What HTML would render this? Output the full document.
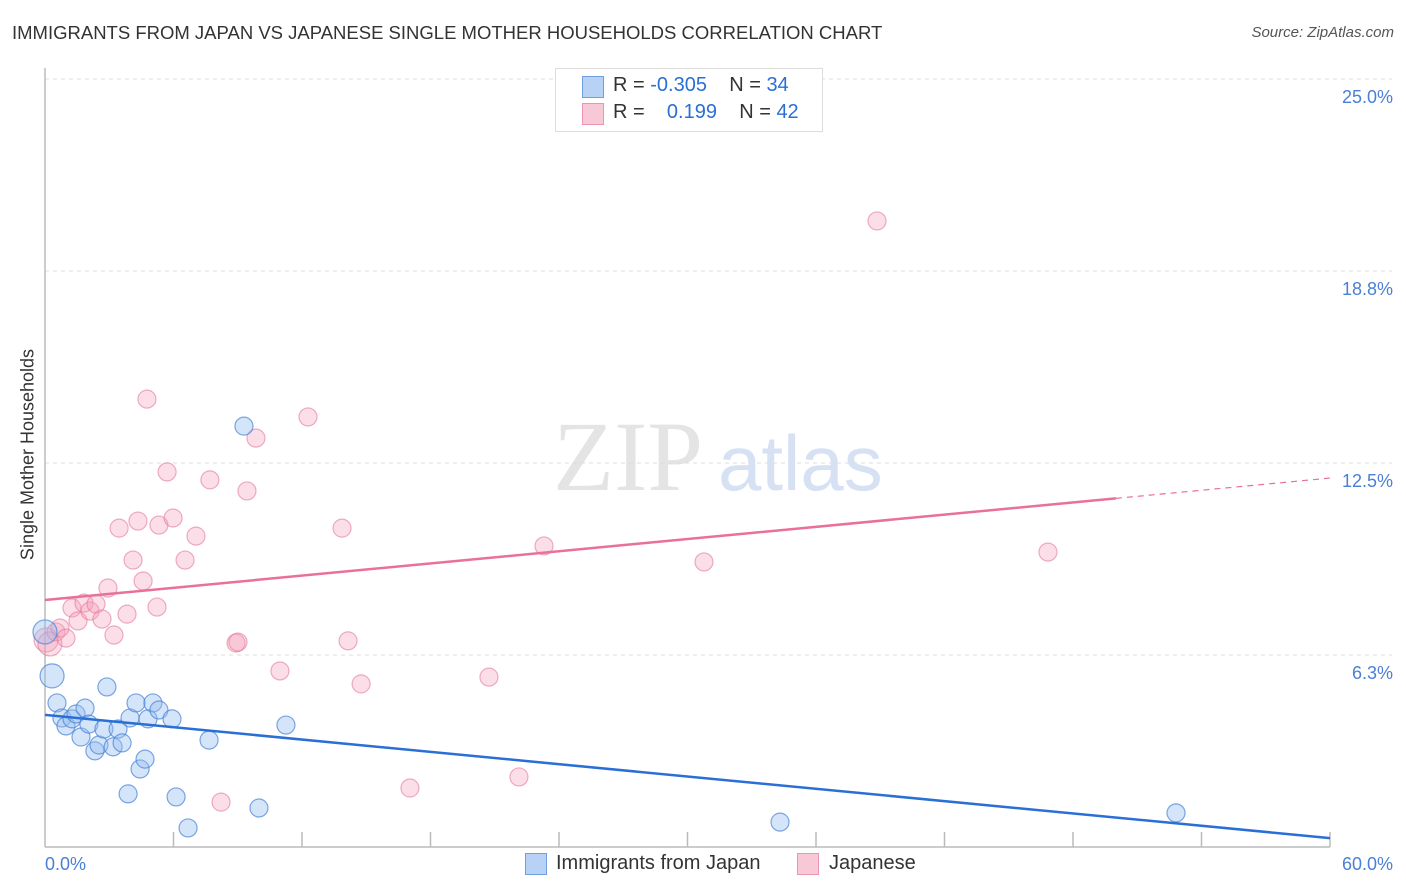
<!DOCTYPE html>
<html><head><meta charset="utf-8"><style>
body{margin:0;background:#fff;font-family:"Liberation Sans",sans-serif;}
#wrap{position:relative;width:1406px;height:892px;overflow:hidden;}
.t{position:absolute;white-space:nowrap;}
</style></head><body>
<div id="wrap">
<div class="t" style="left:12px;top:22px;font-size:18.5px;color:#333;">IMMIGRANTS FROM JAPAN VS JAPANESE SINGLE MOTHER HOUSEHOLDS CORRELATION CHART</div>
<div class="t" style="right:12px;top:24px;font-size:15px;color:#555;font-style:italic;">Source: ZipAtlas.com</div>
<div class="t" style="left:-82px;top:444px;font-size:18px;color:#333;transform:rotate(-90deg);width:220px;text-align:center;">Single Mother Households</div>
<svg id="svg" width="1406" height="892" style="position:absolute;left:0;top:0"></svg>
</div>
<script>
const xTickLabels=["0.0%","60.0%"];
const yTicks=[6.25,12.5,18.75,25];
const yTickLabels=["6.3%","12.5%","18.8%","25.0%"];
const blueX=[0,0.33,0.56,0.79,0.98,1.26,1.45,1.68,1.87,2.05,2.33,2.52,2.75,2.89,3.18,3.41,3.60,3.88,3.97,4.25,4.44,4.67,4.81,5.04,5.32,5.93,6.12,6.68,7.66,9.29,9.99,11.25,34.32,52.81];
const blueY=[7.00,5.57,4.69,4.20,3.94,4.17,4.33,3.58,4.52,4.00,3.13,3.32,3.84,5.21,3.26,3.84,3.39,1.73,4.20,4.69,2.54,2.86,4.17,4.69,4.46,4.17,1.63,0.62,3.48,13.70,1.27,3.97,0.81,1.11];
const pinkX=[0.05,0.23,0.51,0.70,0.98,1.26,1.54,1.82,2.10,2.38,2.66,2.94,3.22,3.83,3.46,4.11,4.34,4.58,4.76,5.23,5.32,5.70,5.98,6.54,7.05,7.70,8.22,8.92,9.01,9.43,9.85,10.97,12.28,13.87,14.15,14.76,17.04,20.73,22.13,23.30,30.77,38.85,46.83];
const pinkY=[6.74,6.61,7.00,7.13,6.80,7.78,7.36,7.94,7.68,7.91,7.42,8.43,6.90,7.58,10.38,9.34,10.61,8.66,14.58,7.81,10.48,12.21,10.71,9.34,10.12,11.95,1.46,6.64,6.67,11.59,13.31,5.73,14.00,10.38,6.71,5.31,1.92,5.53,2.28,9.80,9.28,20.38,9.60];
const blueTrend=[4.30,0.29];
const pinkTrend=[8.04,12.01];
const pinkSolidEnd=50;
const X=v=>45+v/60*1285, Y=v=>847-v*30.72;
const svg=document.getElementById('svg');const NS='http://www.w3.org/2000/svg';
function mk(t,a){const e=document.createElementNS(NS,t);for(const k in a)e.setAttribute(k,a[k]);svg.appendChild(e);return e;}
let w=mk('text',{x:553,y:490,'font-size':100,fill:'#e4e4e4','font-family':'Liberation Serif, serif'});w.textContent='ZIP';


w=mk('text',{x:718,y:490,'font-size':78,fill:'#d6e2f3','font-family':'Liberation Sans, sans-serif'});w.textContent='atlas';


yTicks.forEach((v,i)=>{
 let g=mk('line',{x1:45,x2:1392,y1:Y(v),y2:Y(v),stroke:'#ddd','stroke-dasharray':'4,4'});
 
 
 let t=mk('text',{x:1393,y:Y(v)+24,'text-anchor':'end','font-size':18,fill:'#4a7fd6'});t.textContent=yTickLabels[i];
 
 
});
let ax=mk('line',{x1:45,x2:45,y1:68,y2:847,stroke:'#bbb','stroke-width':1.5});


ax=mk('line',{x1:45,x2:1330,y1:847,y2:847,stroke:'#bbb','stroke-width':1.5});


for(let i=1;i<=10;i++){let tk=mk('line',{x1:X(i*6),x2:X(i*6),y1:832,y2:847,stroke:'#bbb','stroke-width':1.5});
 
 }
let xl=mk('text',{x:45,y:870,'font-size':18,fill:'#4a7fd6'});xl.textContent=xTickLabels[0];


xl=mk('text',{x:1393,y:870,'text-anchor':'end','font-size':18,fill:'#4a7fd6'});xl.textContent=xTickLabels[1];


function dots(xs,ys,fill,stroke,name){xs.forEach((x,i)=>{
 let c=mk('circle',{cx:X(x),cy:Y(ys[i]),r:(i<2&&x<0.5)?12:9,fill:fill,stroke:stroke,'stroke-width':1.2});
 
 });}
dots(pinkX,pinkY,'rgba(244,160,186,0.35)','rgba(228,120,155,0.6)','pink-point');
dots(blueX,blueY,'rgba(150,190,240,0.4)','rgba(70,130,215,0.7)','blue-point');
const pAt=x=>pinkTrend[0]+(pinkTrend[1]-pinkTrend[0])*x/60;
let l=mk('line',{x1:X(0),y1:Y(blueTrend[0]),x2:X(60),y2:Y(blueTrend[1]),stroke:'#2a6fd6','stroke-width':2.5});


l=mk('line',{x1:X(0),y1:Y(pAt(0)),x2:X(pinkSolidEnd),y2:Y(pAt(pinkSolidEnd)),stroke:'#e8709a','stroke-width':2.5});


l=mk('line',{x1:X(pinkSolidEnd),y1:Y(pAt(pinkSolidEnd)),x2:X(60),y2:Y(pAt(60)),stroke:'#e8709a','stroke-width':1.2,'stroke-dasharray':'6,5'});


</script>
<div class="t" style="left:555px;top:68px;width:266px;height:62px;border:1px solid #ddd;background:#fff;">
 <div class="t" style="left:26px;top:7px;width:20px;height:20px;background:#b8d2f5;border:1px solid #6f9fe0;"></div>
 <div class="t" style="left:57px;top:5px;font-size:20px;color:#333;">R = <span style="color:#2a6fd6">-0.305</span>&nbsp;&nbsp;&nbsp; N = <span style="color:#2a6fd6">34</span></div>
 <div class="t" style="left:26px;top:34px;width:20px;height:20px;background:#f9c8d7;border:1px solid #ec94b1;"></div>
 <div class="t" style="left:57px;top:32px;font-size:20px;color:#333;">R = &nbsp;&nbsp; <span style="color:#2a6fd6">0.199</span>&nbsp;&nbsp;&nbsp; N = <span style="color:#2a6fd6">42</span></div>
</div>
<div class="t" style="left:525px;top:853px;width:20px;height:20px;background:#b8d2f5;border:1px solid #6f9fe0;"></div>
<div class="t" style="left:556px;top:852px;font-size:20px;color:#333;">Immigrants from Japan</div>
<div class="t" style="left:797px;top:853px;width:20px;height:20px;background:#f9c8d7;border:1px solid #ec94b1;"></div>
<div class="t" style="left:829px;top:852px;font-size:20px;color:#333;">Japanese</div>
</body></html>
